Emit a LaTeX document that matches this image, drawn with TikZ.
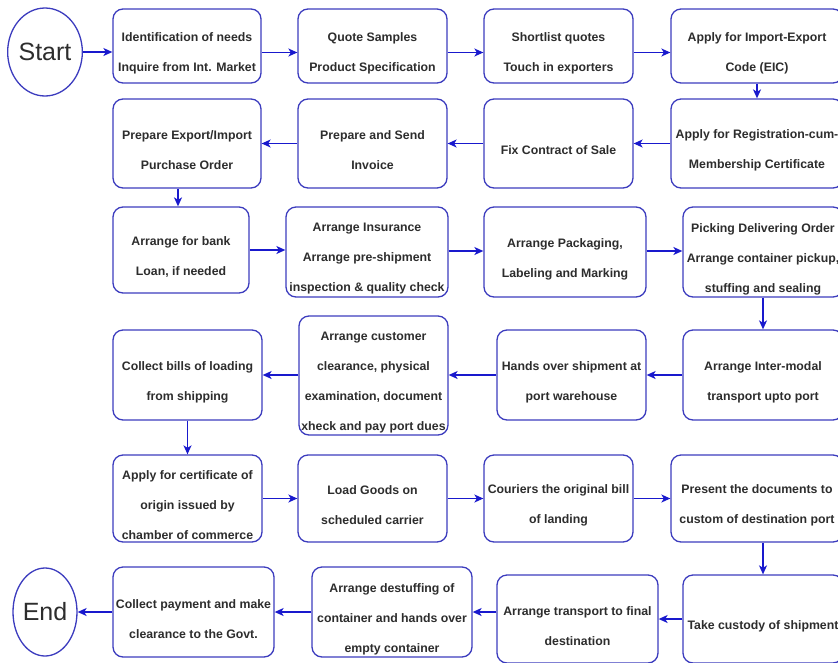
\documentclass[tikz,border=0pt]{standalone}
\usepackage{fontspec}
\setmainfont{Liberation Sans}
\usetikzlibrary{shapes.geometric,arrows.meta}
\definecolor{boxblue}{RGB}{60,60,190}
\definecolor{linkblue}{RGB}{25,25,205}
\definecolor{inkgray}{RGB}{45,45,45}

\tikzset{
  stepbox/.style={draw=boxblue, line width=1.3pt, rounded corners=10pt, fill=white, inner sep=0pt},
  steptext/.style={align=center, text=inkgray, font=\fontsize{12.3}{30}\selectfont\bfseries, inner sep=0pt},
  terminal/.style={ellipse, draw=boxblue, line width=1.3pt, minimum width=64pt, minimum height=88pt,
    inner sep=0pt, text=inkgray, font=\fontsize{25}{28}\selectfont},
  link/.style={draw=linkblue, line width=1.4pt, -{Stealth[length=9pt,width=8pt,inset=2.5pt]}},
}

% \stepat{name}{left}{top}{right}{bottom}{text}: a rounded step box with its caption
\newcommand\stepat[6]{%
  \node[stepbox, minimum width={(#4-#2)*1pt}, minimum height={(#5-#3)*1pt}] (#1) at ({(#2+#4)/2},{(#3+#5)/2}) {};
  \node[steptext] (#1-t) at ([yshift=-7pt]#1.center) {#6};
}

\begin{document}
\begin{tikzpicture}[x=1pt,y=-1pt]
\useasboundingbox (0,0) rectangle (838,662);

% terminals
\node[terminal] (start) at (45,52) {Start};
\node[terminal] (end) at (45,612) {End};

% row 1
\stepat{a1}{113}{9}{261}{83}{Identification of needs\\Inquire from Int. Market}
\stepat{a2}{298}{9}{447}{83}{Quote Samples\\Product Specification}
\stepat{a3}{484}{9}{633}{83}{Shortlist quotes\\Touch in exporters}
\stepat{a4}{671}{9}{843}{83}{Apply for Import-Export\\Code (EIC)}

% row 2
\stepat{b4}{671}{99}{843}{188}{Apply for Registration-cum-\\Membership Certificate}
\stepat{b3}{484}{99}{633}{188}{Fix Contract of Sale}
\stepat{b2}{298}{99}{447}{188}{Prepare and Send\\Invoice}
\stepat{b1}{113}{99}{261}{188}{Prepare Export/Import\\Purchase Order}

% row 3
\stepat{c1}{113}{207}{249}{293}{Arrange for bank\\Loan, if needed}
\stepat{c2}{286}{207}{448}{297}{Arrange Insurance\\Arrange pre-shipment\\inspection \& quality check}
\stepat{c3}{484}{207}{646}{297}{Arrange Packaging,\\Labeling and Marking}
\stepat{c4}{683}{207}{843}{297}{Picking Delivering Order\\Arrange container pickup,\\stuffing and sealing}

% row 4
\stepat{d4}{683}{330}{843}{420}{Arrange Inter-modal\\transport upto port}
\stepat{d3}{497}{330}{646}{420}{Hands over shipment at\\port warehouse}
\stepat{d2}{299}{316}{448}{435}{Arrange customer\\clearance, physical\\examination, document\\xheck and pay port dues}
\stepat{d1}{113}{330}{262}{420}{Collect bills of loading\\from shipping}

% row 5
\stepat{e1}{113}{455}{262}{542}{Apply for certificate of\\origin issued by\\chamber of commerce}
\stepat{e2}{298}{455}{447}{542}{Load Goods on\\scheduled carrier}
\stepat{e3}{484}{455}{633}{542}{Couriers the original bill\\of landing}
\stepat{e4}{671}{455}{843}{542}{Present the documents to\\custom of destination port}

% row 6
\stepat{f4}{683}{575}{843}{663}{Take custody of shipment}
\stepat{f3}{497}{575}{658}{663}{Arrange transport to final\\destination}
\stepat{f2}{312}{567}{472}{657}{Arrange destuffing of\\container and hands over\\empty container}
\stepat{f1}{113}{567}{274}{657}{Collect payment and make\\clearance to the Govt.}

% connectors
\draw[link] (start.east) -- (start.east -| a1.west);
\draw[link] ([yshift=-6.5pt]a1.east) -- ([yshift=-6.5pt]a2.west);
\draw[link] ([yshift=-6.5pt]a2.east) -- ([yshift=-6.5pt]a3.west);
\draw[link] ([yshift=-6.5pt]a3.east) -- ([yshift=-6.5pt]a4.west);
\draw[link] (a4.south) -- (a4.south |- b4.north);
\draw[link] (b4.west) -- (b3.east);
\draw[link] (b3.west) -- (b2.east);
\draw[link] (b2.west) -- (b1.east);
\draw[link] ([xshift=-9pt]b1.south) -- ([xshift=-9pt]b1.south |- c1.north);
\draw[link] (c1.east) -- (c1.east -| c2.west);
\draw[link] ([yshift=1pt]c2.east) -- ([yshift=1pt]c3.west);
\draw[link] ([yshift=1pt]c3.east) -- ([yshift=1pt]c4.west);
\draw[link] (c4.south) -- (d4.north);
\draw[link] (d4.west) -- (d3.east);
\draw[link] (d3.west) -- (d3.west -| d2.east);
\draw[link] (d2.west |- d1.east) -- (d1.east);
\draw[link] (d1.south) -- (d1.south |- e1.north);
\draw[link] (e1.east) -- (e2.west);
\draw[link] (e2.east) -- (e3.west);
\draw[link] (e3.east) -- (e4.west);
\draw[link] (f4.north |- e4.south) -- (f4.north);
\draw[link] (f4.west) -- (f4.west -| f3.east);
\draw[link] (f3.west |- f2.east) -- (f2.east);
\draw[link] (f2.west) -- (f1.east);
\draw[link] (f1.west) -- (end.east);
\end{tikzpicture}
\end{document}
